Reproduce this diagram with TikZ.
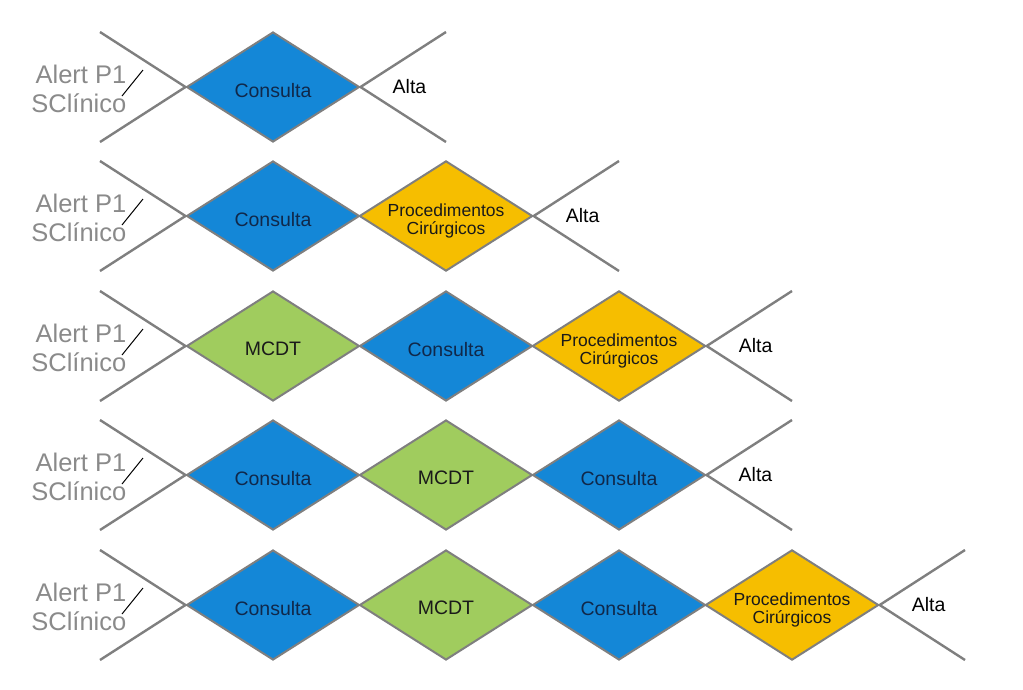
\documentclass[tikz,border=0pt]{standalone}
\usepackage{fontspec}
\setmainfont{Liberation Sans}
\usetikzlibrary{positioning, shapes.geometric}
\definecolor{consblue}{HTML}{1487D7}
\definecolor{mcdtgreen}{HTML}{A0CC5E}
\definecolor{procyellow}{HTML}{F6BE00}
\definecolor{linegray}{HTML}{7F7F7F}
\definecolor{alertgray}{HTML}{8A8A8A}
\definecolor{stagetext}{HTML}{1A1A1A}
\definecolor{consnavy}{HTML}{10284A}

\begin{document}
\begin{tikzpicture}[x=1pt, y=-1pt,
      stage/.style={diamond, aspect=1.573, draw=linegray, line width=2pt, minimum width=173pt, minimum height=110pt, inner sep=0pt, text=stagetext, align=center},
      consulta/.style={stage, fill=consblue, text=consnavy, font=\fontsize{19.5}{21}\selectfont, text height=20pt, text depth=0pt},
      mcdt/.style={stage, fill=mcdtgreen, font=\fontsize{19.5}{21}\selectfont, text height=18pt, text depth=0pt},
      proc/.style={stage, fill=procyellow, font=\fontsize{17.5}{18}\selectfont, text height=36pt, text depth=-5pt},
      alta/.style={inner sep=0pt, text=black, font=\fontsize{19.5}{21}\selectfont},
      alert/.style={anchor=base east, inner sep=0pt, text=alertgray, align=right, font=\fontsize{25.5}{29}\selectfont},
      edge/.style={draw=linegray, line width=2.4pt},
    ]
    \useasboundingbox (0,0) rectangle (1023,689);

    % row 1
    \node[consulta] (c11) at (273,87) {Consulta};
    \node[alta, right=32pt of c11.east] (alta1) {Alta};
    \node[alert] (alert1) at (126.5,112) {Alert P1\\SClínico};
    \draw[black, line width=1pt] (143,70) -- (122,96);
    \coordinate (lt1) at (100,32);
    \coordinate (lb1) at (100,142);
    \coordinate (rt1) at (446,32);
    \coordinate (rb1) at (446,142);
    \draw[edge] (lt1) -- (c11.west) -- (lb1);
    \draw[edge] (rt1) -- (c11.east) -- (rb1);

    % row 2
    \node[consulta] (c21) at (273,216) {Consulta};
    \node[proc] (p22) at (446,216) {Procedimentos\\Cirúrgicos};
    \node[alta, right=32pt of p22.east] (alta2) {Alta};
    \node[alert] (alert2) at (126.5,241) {Alert P1\\SClínico};
    \draw[black, line width=1pt] (143,199) -- (122,225);
    \coordinate (lt2) at (100,161);
    \coordinate (lb2) at (100,271);
    \coordinate (rt2) at (619,161);
    \coordinate (rb2) at (619,271);
    \draw[edge] (lt2) -- (c21.west) -- (lb2);
    \draw[edge] (rt2) -- (p22.east) -- (rb2);

    % row 3
    \node[mcdt] (m31) at (273,346) {MCDT};
    \node[consulta] (c32) at (446,346) {Consulta};
    \node[proc] (p33) at (619,346) {Procedimentos\\Cirúrgicos};
    \node[alta, right=32pt of p33.east] (alta3) {Alta};
    \node[alert] (alert3) at (126.5,371) {Alert P1\\SClínico};
    \draw[black, line width=1pt] (143,329) -- (122,355);
    \coordinate (lt3) at (100,291);
    \coordinate (lb3) at (100,401);
    \coordinate (rt3) at (792,291);
    \coordinate (rb3) at (792,401);
    \draw[edge] (lt3) -- (m31.west) -- (lb3);
    \draw[edge] (rt3) -- (p33.east) -- (rb3);

    % row 4
    \node[consulta] (c41) at (273,475) {Consulta};
    \node[mcdt] (m42) at (446,475) {MCDT};
    \node[consulta] (c43) at (619,475) {Consulta};
    \node[alta, right=32pt of c43.east] (alta4) {Alta};
    \node[alert] (alert4) at (126.5,500) {Alert P1\\SClínico};
    \draw[black, line width=1pt] (143,458) -- (122,484);
    \coordinate (lt4) at (100,420);
    \coordinate (lb4) at (100,530);
    \coordinate (rt4) at (792,420);
    \coordinate (rb4) at (792,530);
    \draw[edge] (lt4) -- (c41.west) -- (lb4);
    \draw[edge] (rt4) -- (c43.east) -- (rb4);

    % row 5
    \node[consulta] (c51) at (273,605) {Consulta};
    \node[mcdt] (m52) at (446,605) {MCDT};
    \node[consulta] (c53) at (619,605) {Consulta};
    \node[proc] (p54) at (792,605) {Procedimentos\\Cirúrgicos};
    \node[alta, right=32pt of p54.east] (alta5) {Alta};
    \node[alert] (alert5) at (126.5,630) {Alert P1\\SClínico};
    \draw[black, line width=1pt] (143,588) -- (122,614);
    \coordinate (lt5) at (100,550);
    \coordinate (lb5) at (100,660);
    \coordinate (rt5) at (965,550);
    \coordinate (rb5) at (965,660);
    \draw[edge] (lt5) -- (c51.west) -- (lb5);
    \draw[edge] (rt5) -- (p54.east) -- (rb5);
  \end{tikzpicture}
\end{document}
